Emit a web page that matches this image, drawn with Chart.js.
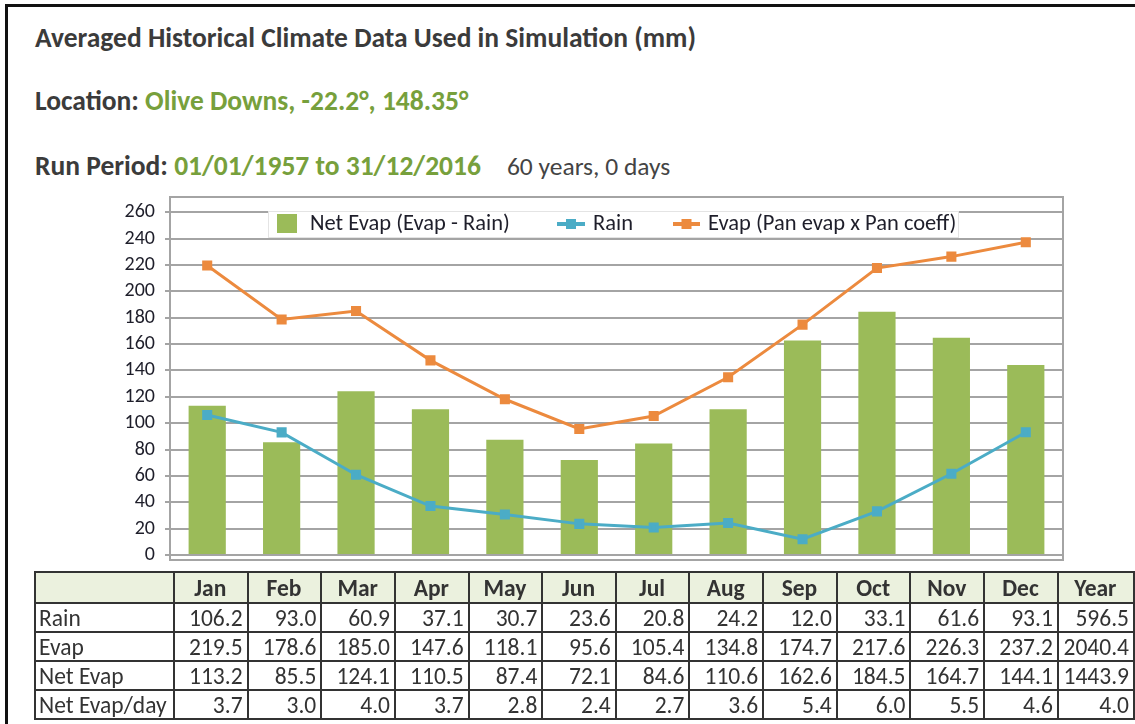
<!DOCTYPE html>
<html>
<head>
<meta charset="utf-8">
<script src="https://cdn.jsdelivr.net/npm/chart.js@4.4.1/dist/chart.umd.min.js"></script>
<style>
  body { margin: 0; width: 1135px; height: 724px; overflow: hidden; background: #fff;
         font-family: Carlito, Lato, sans-serif; position: relative; }
  #frame { position: absolute; left: 5px; top: 4px; width: 1200px; height: 800px;
           border-left: 3px solid #111; border-top: 3px solid #111; }
  .txt { position: absolute; left: 35px; white-space: nowrap; font-weight: bold; color: #3b3b3b; font-size: 27.5px; line-height: 27.5px; }
  .green { color: #77a03c; }
  .plain { font-weight: normal; color: #444; margin-left: 26px; font-size: 25.5px; }
  #wrap { position: absolute; left: 0; top: 175px; width: 1135px; height: 407px; }
  table { position: absolute; left: 34px; top: 571px; border-collapse: collapse; table-layout: fixed;
          font-size: 23.5px; color: #333; }
  td, th { border: 2px solid #333; padding: 0 4px 0 3px; white-space: nowrap; overflow: hidden; line-height: 24px; }
  th { background: #ebf1de; height: 29px; text-align: center; font-weight: bold; color: #333; }
  td { height: 27px; text-align: right; }
  td.lab { text-align: left; }
</style>
</head>
<body>
<div id="frame"></div>
<div class="txt" style="top:24px">Averaged Historical Climate Data Used in Simulation (mm)</div>
<div class="txt" style="top:87px">Location: <span class="green">Olive Downs, -22.2°, 148.35°</span></div>
<div class="txt" style="top:152px">Run Period: <span class="green">01/01/1957 to 31/12/2016</span><span class="plain">60 years, 0 days</span></div>
<div id="wrap"><canvas id="c"></canvas></div>
<table id="tbl"></table>
<script>
// chart values
var months = ['Jan', 'Feb', 'Mar', 'Apr', 'May', 'Jun', 'Jul', 'Aug', 'Sep', 'Oct', 'Nov', 'Dec'];
var rain = [106.2, 93.0, 60.9, 37.1, 30.7, 23.6, 20.8, 24.2, 12.0, 33.1, 61.6, 93.1];
var evap = [219.5, 178.6, 185.0, 147.6, 118.1, 95.6, 105.4, 134.8, 174.7, 217.6, 226.3, 237.2];
var netEvap = [113.2, 85.5, 124.1, 110.5, 87.4, 72.1, 84.6, 110.6, 162.6, 184.5, 164.7, 144.1];
var netEvapDay = [3.7, 3.0, 4.0, 3.7, 2.8, 2.4, 2.7, 3.6, 5.4, 6.0, 5.5, 4.6];
var yearTotals = [596.5, 2040.4, 1443.9, 4.0];
var rowLabels = ['Rain', 'Evap', 'Net Evap', 'Net Evap/day'];
var legendLabels = ['Net Evap (Evap - Rain)', 'Rain', 'Evap (Pan evap x Pan coeff)'];
var yTicks = [0, 20, 40, 60, 80, 100, 120, 140, 160, 180, 200, 220, 240, 260];

var green = '#9bbb59', blue = '#4bacc6', orange = '#ec8a3e', grid = '#a4a4a4';
var font = 'Carlito, Lato, sans-serif';

// table under the chart
function buildTable(){
  var t = document.getElementById('tbl');
  var html = '<colgroup><col style="width:139px">';
  for(var i = 0; i < months.length; i++){ html += '<col style="width:74px">'; }
  html += '<col style="width:76px"></colgroup><tr><th></th>';
  for(var m = 0; m < months.length; m++){ html += '<th>' + months[m] + '</th>'; }
  html += '<th>Year</th></tr>';
  var rows = [rain, evap, netEvap, netEvapDay];
  for(var r = 0; r < rows.length; r++){
    html += '<tr><td class="lab">' + rowLabels[r] + '</td>';
    for(var k = 0; k < rows[r].length; k++){ html += '<td>' + rows[r][k].toFixed(1) + '</td>'; }
    html += '<td>' + yearTotals[r].toFixed(1) + '</td></tr>';
  }
  t.innerHTML = html;
}
buildTable();

// legend box sits inside the plot, top middle
var boxLegend = {
  id: 'boxLegend',
  afterDatasetsDraw: function(chart){
    var ctx = chart.ctx, a = chart.chartArea;
    var y = a.top + 27;
    ctx.save();
    ctx.fillStyle = '#fff';
    ctx.fillRect(268, a.top + 14, 690, 26);
    ctx.strokeStyle = '#e4e4e4';
    ctx.lineWidth = 1;
    ctx.strokeRect(268.5, a.top + 14.5, 690, 26);
    ctx.font = '22.5px ' + font;
    ctx.textBaseline = 'middle';
    ctx.fillStyle = green;
    ctx.fillRect(277, y - 10, 20, 19);
    ctx.fillStyle = '#1e1e2a';
    ctx.fillText(legendLabels[0], 310, y);
    var items = [[557, 585, blue, legendLabels[1], 593], [673, 700, orange, legendLabels[2], 708]];
    for(var i = 0; i < items.length; i++){
      var it = items[i];
      ctx.strokeStyle = it[2];
      ctx.lineWidth = 4;
      ctx.beginPath(); ctx.moveTo(it[0], y); ctx.lineTo(it[1], y); ctx.stroke();
      ctx.fillStyle = it[2];
      var mx = (it[0] + it[1]) / 2;
      ctx.fillRect(mx - 5, y - 5, 10, 10);
      ctx.fillStyle = '#1e1e2a';
      ctx.fillText(it[3], it[4], y);
    }
    ctx.restore();
  },
  afterDraw: function(chart){
    var ctx = chart.ctx, a = chart.chartArea;
    ctx.save();
    ctx.strokeStyle = grid;
    ctx.lineWidth = 2;
    ctx.beginPath();
    ctx.moveTo(a.left, a.top); ctx.lineTo(a.right, a.top); ctx.lineTo(a.right, a.bottom);
    ctx.stroke();
    ctx.restore();
  }
};

new Chart(document.getElementById('c'), {
  data: {
    labels: months,
    datasets: [
      { type: 'line', label: legendLabels[1], data: rain, borderColor: blue, backgroundColor: blue,
        borderWidth: 3, pointStyle: 'rect', pointRadius: 5, tension: 0, order: 1 },
      { type: 'line', label: legendLabels[2], data: evap, borderColor: orange, backgroundColor: orange,
        borderWidth: 3, pointStyle: 'rect', pointRadius: 5, tension: 0, order: 0 },
      { type: 'bar', label: legendLabels[0], data: netEvap, backgroundColor: green,
        barPercentage: 0.5, categoryPercentage: 1.0, order: 2 }
    ]
  },
  options: {
    responsive: true,
    maintainAspectRatio: false,
    animation: false,
    layout: { padding: { left: 0, right: 72, top: 8, bottom: 10 } },
    plugins: { legend: { display: false }, tooltip: { enabled: false } },
    scales: {
      x: {
        ticks: { display: false },
        grid: { display: false },
        border: { display: true, color: grid, width: 2 },
        afterFit: function(s){ s.height = 0; }
      },
      y: {
        min: -3.8,
        max: 271.5,
        afterBuildTicks: function(s){ s.ticks = yTicks.map(function(v){ return { value: v }; }); },
        ticks: { color: '#1e1e2a', padding: 10, font: { family: font, size: 20 } },
        grid: { color: grid, lineWidth: 2, tickLength: 5 },
        border: { display: true, color: grid, width: 2 },
        afterFit: function(s){ s.width = 170; }
      }
    }
  },
  plugins: [boxLegend]
});
</script>
</body>
</html>
